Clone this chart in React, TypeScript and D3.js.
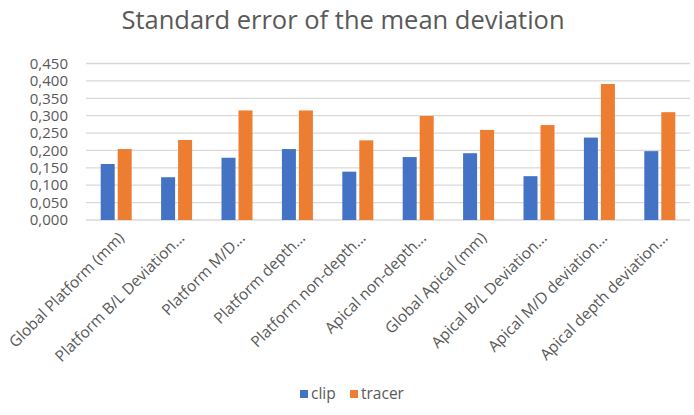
import { useEffect, useRef } from "react";
import * as d3 from "d3";

const WIDTH = 694;
const HEIGHT = 415;

const categories = [
  "Global Platform (mm)",
  "Platform B/L Deviation...",
  "Platform M/D...",
  "Platform depth...",
  "Platform non-depth...",
  "Apical non-depth...",
  "Global Apical (mm)",
  "Apical B/L Deviation...",
  "Apical M/D deviation...",
  "Apical depth deviation...",
];
const clipValues = [0.161, 0.123, 0.179, 0.204, 0.139, 0.181, 0.192, 0.126, 0.237, 0.198];
const tracerValues = [0.204, 0.23, 0.315, 0.315, 0.229, 0.299, 0.259, 0.273, 0.391, 0.31];
const seriesNames = ["clip", "tracer"];
const seriesColors = ["#4472C4", "#ED7D31"];
const yTicks = [0, 0.05, 0.1, 0.15, 0.2, 0.25, 0.3, 0.35, 0.4, 0.45];

const FONT = "'Open Sans', sans-serif";
const TEXT = "#595959";

export default function App() {
  const svgRef = useRef<SVGSVGElement>(null);

  useEffect(() => {
    const svg = d3.select(svgRef.current);
    svg.selectAll("*").remove();

    const left = 86, right = 690, top = 63.5, bottom = 220;

    const x = d3.scaleBand().domain(categories).range([left, right]).paddingInner(0).paddingOuter(0);
    const y = d3.scaleLinear().domain([0, 0.45]).range([bottom, top]);
    const fmt = (v: number) => d3.format(".3f")(v).replace(".", ",");

    // title
    svg.append("text")
      .attr("x", 343).attr("y", 29)
      .attr("text-anchor", "middle")
      .attr("font-family", FONT).attr("font-size", 25.5)
      .attr("fill", TEXT)
      .text("Standard error of the mean deviation");

    // grid
    svg.append("g").selectAll("line")
      .data(yTicks)
      .join("line")
      .attr("x1", left).attr("x2", right)
      .attr("y1", (d) => y(d)).attr("y2", (d) => y(d))
      .attr("stroke", "#d9d9d9").attr("stroke-width", 1.3);

    // y labels
    svg.append("g").selectAll("text")
      .data(yTicks)
      .join("text")
      .attr("x", 68).attr("y", (d) => y(d))
      .attr("dy", "0.35em")
      .attr("text-anchor", "end")
      .attr("font-family", FONT).attr("font-size", 15)
      .attr("fill", TEXT)
      .text(fmt);

    // bars
    const barW = 14, gap = 3;
    const series = [clipValues, tracerValues];
    series.forEach((vals, si) => {
      svg.append("g").selectAll("rect")
        .data(vals)
        .join("rect")
        .attr("x", (_, i) => x(categories[i])! + x.bandwidth() / 2 - barW - gap / 2 + si * (barW + gap))
        .attr("y", (d) => y(d))
        .attr("width", barW)
        .attr("height", (d) => bottom - y(d))
        .attr("fill", seriesColors[si]);
    });

    // x labels
    svg.append("g").selectAll("text")
      .data(categories)
      .join("text")
      .attr("transform", (d) => `translate(${x(d)! + x.bandwidth() / 2 + 5},${bottom + 15}) rotate(-45)`)
      .attr("text-anchor", "end")
      .attr("dy", "0.35em")
      .attr("font-family", FONT).attr("font-size", 15.5)
      .attr("fill", TEXT)
      .text((d) => d);

    // legend
    const legend = svg.append("g");
    const legendX = [300, 350];
    seriesNames.forEach((name, i) => {
      legend.append("rect")
        .attr("x", legendX[i]).attr("y", 390)
        .attr("width", 8).attr("height", 8)
        .attr("fill", seriesColors[i]);
      legend.append("text")
        .attr("x", legendX[i] + 11).attr("y", 394)
        .attr("dy", "0.35em")
        .attr("font-family", FONT).attr("font-size", 15.5)
        .attr("fill", TEXT)
        .text(name);
    });
  }, []);

  return (
    <svg
      ref={svgRef}
      width={WIDTH}
      height={HEIGHT}
      style={{ position: "absolute", left: 0, top: 0, background: "#fff" }}
    />
  );
}
